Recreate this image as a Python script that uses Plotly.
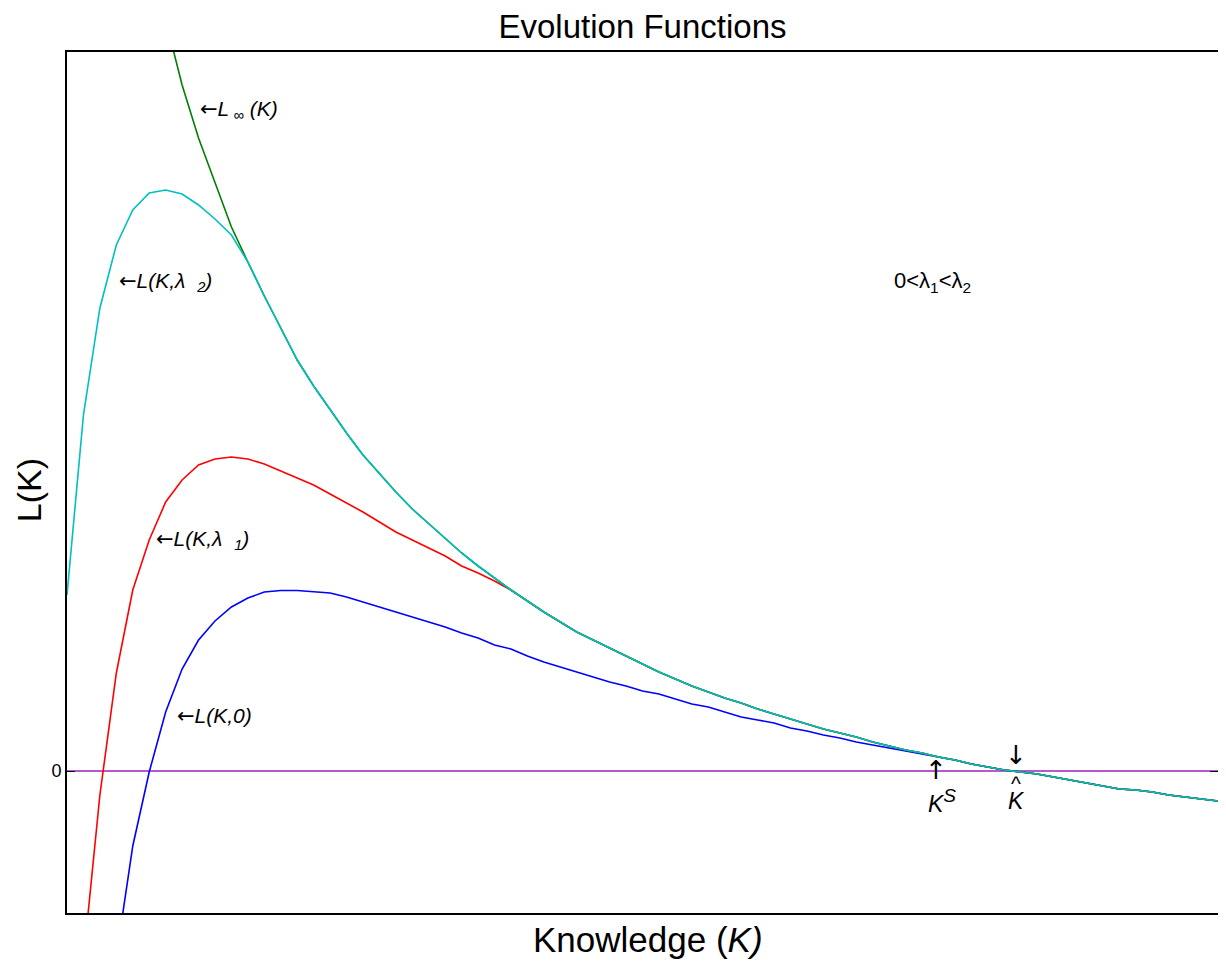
import plotly.graph_objects as go

# Knowledge grid (sample index)
K = list(range(71))

# L(K, lambda2) - cyan, full range
L_lambda2 = [1.76, 3.56, 4.63, 5.26, 5.61, 5.78, 5.81, 5.77, 5.66, 5.52,
             5.36, 5.09, 4.75, 4.43, 4.11, 3.85, 3.61, 3.38, 3.16, 2.97,
             2.79, 2.62, 2.47, 2.32, 2.18, 2.05, 1.93, 1.81, 1.70, 1.59,
             1.49, 1.39, 1.31, 1.23, 1.15, 1.07, 0.99, 0.92, 0.85, 0.79,
             0.73, 0.68, 0.62, 0.57, 0.52, 0.47, 0.42, 0.38, 0.34, 0.29,
             0.25, 0.21, 0.18, 0.14, 0.11, 0.07, 0.04, 0.01, -0.01, -0.03,
             -0.06, -0.09, -0.12, -0.15, -0.18, -0.19, -0.21, -0.24, -0.26, -0.28,
             -0.30]

# L_inf(K) - green, starts at index 6, joins cyan at index 11
K_inf_head = [6, 7, 8, 9, 10]
L_inf_head = [7.51, 6.86, 6.33, 5.88, 5.44]

# L(K, lambda1) - red, indices 1..26, joins cyan at index 27
K_l1_head = list(range(1, 27))
L_l1_head = [-1.89, -0.24, 0.98, 1.81, 2.31, 2.69, 2.91, 3.06, 3.12, 3.14,
             3.12, 3.07, 3.00, 2.93, 2.86, 2.77, 2.68, 2.59, 2.49, 2.39,
             2.31, 2.23, 2.15, 2.05, 1.98, 1.90]

# L(K, 0) - blue, indices 2..52, joins cyan at index 53
K_0_head = list(range(2, 53))
L_0_head = [-3.79, -1.86, -0.75, -0.01, 0.59, 1.02, 1.31, 1.50, 1.64, 1.73,
            1.79, 1.805, 1.805, 1.795, 1.78, 1.74, 1.69, 1.64, 1.59, 1.54,
            1.49, 1.44, 1.38, 1.33, 1.26, 1.22, 1.15, 1.09, 1.04, 0.99,
            0.94, 0.89, 0.85, 0.80, 0.77, 0.72, 0.67, 0.64, 0.59, 0.54,
            0.51, 0.48, 0.43, 0.40, 0.36, 0.33, 0.29, 0.26, 0.23, 0.20,
            0.17]

K_inf = K_inf_head + K[11:]
L_inf = L_inf_head + L_lambda2[11:]
K_l1 = K_l1_head + K[27:]
L_l1 = L_l1_head + L_lambda2[27:]
K_0 = K_0_head + K[53:]
L_0 = L_0_head + L_lambda2[53:]

FONT = "Arial, Liberation Sans, sans-serif"
LW = 1.6
W, H = 1218, 957

fig = go.Figure()
fig.add_trace(go.Scatter(x=[K[0], K[-1]], y=[0, 0], mode="lines",
                         line=dict(color="#a020c0", width=LW), hoverinfo="skip"))
fig.add_trace(go.Scatter(x=K_0, y=L_0, mode="lines", line=dict(color="#0000ff", width=LW)))
fig.add_trace(go.Scatter(x=K_l1, y=L_l1, mode="lines", line=dict(color="#ff0000", width=LW)))
fig.add_trace(go.Scatter(x=K_inf, y=L_inf, mode="lines", line=dict(color="#008000", width=LW)))
fig.add_trace(go.Scatter(x=K, y=L_lambda2, mode="lines", line=dict(color="#00bfbf", width=LW)))

ARROW_L = '<span style="font-family:DejaVu Sans;font-style:normal">←</span>'
ann_font = dict(family=FONT, size=21, color="black")
arrow_font = dict(family="Noto Sans, DejaVu Sans", size=26, color="black")
annotations = [
    dict(x=7.95, y=6.61, text=ARROW_L + "<i>L<sub> ∞</sub> (K)</i>", xanchor="left", yanchor="middle", font=ann_font),
    dict(x=3.04, y=4.89, text=ARROW_L + "<i>L(K,λ  <sub>2</sub>)</i>", xanchor="left", yanchor="middle", font=ann_font),
    dict(x=5.28, y=2.31, text=ARROW_L + "<i>L(K,λ  <sub>1</sub>)</i>", xanchor="left", yanchor="middle", font=ann_font),
    dict(x=6.56, y=0.55, text=ARROW_L + "<i>L(K,0)</i>", xanchor="left", yanchor="middle", font=ann_font),
    dict(x=50.15, y=4.89, text="0<λ<sub>1</sub><λ<sub>2</sub>", xanchor="left", yanchor="middle",
         font=dict(family=FONT, size=22, color="black")),
    dict(x=52.85, y=0.02, text="↑", xanchor="center", yanchor="middle", font=arrow_font),
    dict(x=53.2, y=-0.30, text='<i>K</i><sup><i><span style="font-size:19px">S</span></i></sup>',
         xanchor="center", yanchor="middle", font=dict(family=FONT, size=23, color="black")),
    dict(x=57.74, y=0.17, text="↓", xanchor="center", yanchor="middle", font=arrow_font),
    dict(x=57.74, y=-0.12, text="^", xanchor="center", yanchor="middle", font=ann_font),
    dict(x=57.74, y=-0.30, text="<i>K</i>", xanchor="center", yanchor="middle",
         font=dict(family=FONT, size=23, color="black")),
]
for a in annotations:
    a.update(xref="x", yref="y", showarrow=False)

annotations.append(dict(x=0.505, y=-0.031, xref="paper", yref="paper", showarrow=False,
                        text="Knowledge (<i>K)</i>", font=dict(family=FONT, size=35, color="black"),
                        xanchor="center", yanchor="middle"))
annotations.append(dict(x=-0.033, y=0.491, xref="paper", yref="paper", showarrow=False,
                        text="L(K)", textangle=-90, font=dict(family=FONT, size=34, color="black"),
                        xanchor="center", yanchor="middle"))

fig.update_layout(
    width=W, height=H,
    margin=dict(l=59, r=6, t=44, b=52),
    paper_bgcolor="white", plot_bgcolor="white",
    showlegend=False,
    title=dict(text="Evolution Functions", x=0.5, xref="paper", xanchor="center",
               y=1 - 18 / H, yref="container", yanchor="middle",
               font=dict(family=FONT, size=33, color="black")),
    annotations=annotations,
)
fig.update_xaxes(range=[0, 70], showgrid=False, zeroline=False, showticklabels=False,
                 ticks="", showline=True, linecolor="black", linewidth=2, mirror=True)
fig.update_yaxes(range=[-1.42, 7.19], showgrid=False, zeroline=False,
                 tickvals=[0], ticktext=["0"], ticks="inside", ticklen=8, tickwidth=1,
                 tickcolor="black", tickfont=dict(family=FONT, size=18, color="black"),
                 showline=True, linecolor="black", linewidth=2, mirror="ticks")

fig.write_html("out.html")
